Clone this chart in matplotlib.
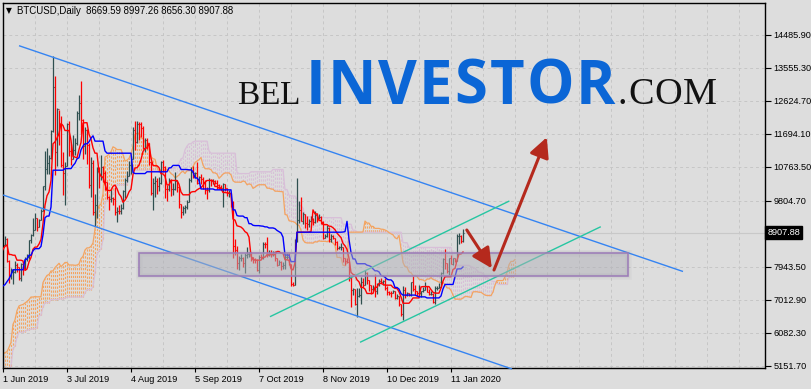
import numpy as np
import pandas as pd
import matplotlib
matplotlib.use("Agg")
import matplotlib.pyplot as plt
from matplotlib.patches import Rectangle

# ---------------- data (BTCUSD daily, from 2019-03-15) ----------------
start_date = "2019-03-15"
origin_date = "2019-06-01"

high = [
    3920, 4050, 4010, 4030, 4020, 4050, 4060, 3990, 4000, 4000, 3980, 3940, 4060, 4050, 4120, 4120, 4110,
    4170, 4930, 5290, 5050, 5060, 5230, 5270, 5320, 5290, 5460, 5340, 5110, 5120, 5170, 5180, 5240, 5310, 5320, 5330, 5350, 5350, 5450, 5620, 5630, 5500, 5350, 5280, 5270, 5250, 5340,
    5420, 5530, 5850, 5900, 5860, 5780, 5990, 6000, 6180, 6420, 7380, 7540, 8050, 8310, 8220, 8280, 7910, 7440, 8250, 8190, 8050, 8020, 7950, 8120, 8150, 8730, 8900, 8820, 8730, 9080, 8580,
    8620, 8800, 8760, 8130, 7900, 7880, 8120, 8060, 7950, 8040, 8020, 8220, 8300, 8700, 8860, 9330, 9450, 9330, 9300, 9580, 10230, 11200, 11290, 11090, 11800, 13880, 13330, 12420, 12380, 12200,
    11180, 10900, 11990, 12050, 11400, 11650, 11580, 12340, 12800, 13200, 12120, 11900, 11830, 11450, 11050, 10950, 9990, 10750, 10760, 11100, 10800, 10650, 10330, 9930, 10130, 9900, 10190, 9630, 9690, 9710, 10100,
    10450, 10640, 10920, 11070, 11890, 12050, 12050, 12020, 12030, 11930, 11580, 11570, 11440, 10910, 10450, 10520, 10450, 10480, 10920, 10950, 10780, 10240, 10440, 10410, 10320, 10620, 10380, 10210, 9720, 9670, 9680,
    9830, 10440, 10770, 10800, 10620, 10900, 10500, 10560, 10470, 10390, 10200, 10450, 10430, 10420, 10380, 10380, 10280, 10250, 10320, 10280, 10180, 10110, 10040, 9800, 8730, 8530, 8260, 8300, 8220, 8340,
    8500, 8360, 8350, 8230, 8180, 8150, 8270, 8310, 8650, 8650, 8790, 8430, 8420, 8390, 8380, 8200, 8130, 8100, 8080, 8300, 8320, 8320, 8030, 7510, 8720, 10450, 9800, 9900, 9500, 9430, 9370,
    9280, 9370, 9320, 9530, 9450, 9420, 9370, 9240, 8860, 9130, 9070, 8870, 8840, 8770, 8660, 8530, 8620, 8510, 8180, 8190, 8100, 7670, 7350, 7330, 7340, 7340, 7650, 7630, 7850, 7800,
    7570, 7430, 7420, 7750, 7490, 7600, 7620, 7580, 7630, 7390, 7260, 7250, 7300, 7260, 7180, 7120, 6900, 7390, 7360, 7220, 7200, 7520, 7690, 7430, 7270, 7430, 7270, 7360, 7520, 7410, 7330,
    7250, 7210, 7400, 7390, 7500, 7800, 8200, 8450, 8050, 8190, 8280, 8190, 8190, 8880, 8890, 8840, 8997.26,
]
low = [
    3850, 3890, 3950, 3950, 3960, 3980, 3940, 3950, 3960, 3950, 3880, 3900, 3920, 4010, 4020, 4060, 4080,
    4080, 4140, 4860, 4830, 4900, 4950, 5050, 5150, 5160, 5180, 4970, 4960, 5050, 5050, 5000, 5030, 5200, 5260, 5240, 5270, 5250, 5280, 5380, 5410, 5140, 5100, 5210, 5200, 5150, 5190,
    5320, 5390, 5490, 5600, 5730, 5630, 5730, 5800, 5970, 6130, 6350, 6800, 6970, 7690, 7890, 7650, 6640, 7210, 7250, 7610, 7800, 7600, 7510, 7800, 7960, 8040, 8660, 8600, 8500, 8080, 8130,
    8450, 8550, 8090, 7500, 7590, 7460, 7760, 7800, 7560, 7550, 7720, 7850, 8100, 8160, 8610, 8820, 8970, 8950, 9060, 9270, 9530, 10100, 10550, 10560, 10990, 11740, 10530, 10800, 11380, 10770,
    9980, 9700, 10800, 11070, 10820, 10990, 11100, 11370, 12100, 11680, 11000, 11120, 10850, 10170, 9900, 9400, 9100, 9330, 10170, 10400, 10350, 10120, 9860, 9550, 9780, 9700, 9400, 9200, 9420, 9430, 9580,
    9890, 10340, 10510, 10560, 10980, 11240, 11430, 11530, 11620, 11260, 11170, 11280, 10810, 9970, 9560, 9920, 9990, 10080, 10280, 10620, 9880, 9810, 10070, 9930, 9970, 10110, 10060, 9600, 9330, 9400, 9450,
    9580, 9760, 10350, 10460, 10460, 10270, 10300, 10290, 10130, 9990, 9860, 10050, 10220, 10290, 10280, 10140, 10150, 10100, 9630, 10080, 9940, 9900, 9630, 8200, 8270, 7880, 7850, 8100, 7950, 7760,
    8190, 8220, 8120, 8040, 8040, 7820, 7780, 8150, 8150, 8460, 8230, 8260, 8230, 8260, 8120, 7960, 7980, 7860, 7890, 7870, 8160, 7990, 7390, 7400, 7420, 8650, 9170, 9230, 9160, 9050, 8970,
    9080, 9220, 9120, 9170, 9220, 9300, 9140, 8740, 8760, 8780, 8650, 8640, 8720, 8560, 8420, 8440, 8410, 8080, 8000, 8040, 7530, 6800, 7150, 6870, 6530, 7080, 6880, 7370, 7420, 7470,
    7260, 7170, 7250, 7100, 7180, 7390, 7500, 7440, 7290, 7160, 7150, 7100, 7200, 7040, 7030, 6850, 6560, 6440, 7060, 7110, 7120, 7120, 7270, 7150, 7120, 7160, 7080, 7240, 7280, 7220, 7160,
    7150, 6930, 6880, 7290, 7340, 7370, 7730, 7870, 7760, 7720, 8010, 7990, 8080, 8100, 8580, 8610, 8656.30,
]
close = [
    3900, 4010, 3980, 3970, 4000, 4030, 3960, 3980, 3990, 3970, 3910, 3930, 4040, 4030, 4100, 4100, 4100,
    4150, 4880, 4970, 4900, 5040, 5060, 5200, 5290, 5200, 5330, 5020, 5080, 5070, 5140, 5030, 5220, 5280, 5290, 5280, 5340, 5290, 5390, 5540, 5450, 5180, 5240, 5250, 5240, 5200, 5340,
    5400, 5500, 5800, 5850, 5770, 5730, 5850, 5980, 6170, 6350, 7250, 6970, 7810, 7990, 8200, 7880, 7350, 7260, 8190, 7980, 7960, 7630, 7880, 7990, 8050, 8670, 8800, 8720, 8660, 8270, 8550,
    8560, 8740, 8120, 7680, 7790, 7800, 8000, 7930, 7630, 8010, 7900, 8160, 8230, 8690, 8850, 8980, 9330, 9080, 9270, 9530, 10210, 10700, 10860, 11010, 11790, 13020, 11180, 12400, 11960, 10810,
    10580, 10800, 11960, 11220, 10980, 11230, 11450, 12290, 12580, 12100, 11340, 11800, 11390, 10250, 10870, 9480, 9690, 10660, 10530, 10770, 10600, 10330, 9900, 9850, 9880, 9870, 9480, 9530, 9520, 9590, 10090,
    10400, 10520, 10820, 10980, 11800, 11460, 11980, 11970, 11860, 11300, 11530, 11380, 10900, 10030, 10310, 10360, 10220, 10320, 10900, 10760, 10140, 10130, 10400, 10140, 10140, 10370, 10190, 9720, 9490, 9590, 9630,
    9760, 10390, 10620, 10580, 10580, 10320, 10490, 10410, 10340, 10120, 10100, 10400, 10360, 10360, 10310, 10260, 10190, 10160, 10270, 10180, 10020, 10040, 9700, 8530, 8430, 8060, 8180, 8200, 8040, 8290,
    8300, 8340, 8230, 8150, 8140, 7850, 8210, 8190, 8590, 8580, 8270, 8330, 8300, 8370, 8200, 8000, 8090, 7970, 7980, 8230, 8230, 8030, 7470, 7440, 8660, 9260, 9550, 9230, 9430, 9180, 9150,
    9250, 9300, 9200, 9400, 9320, 9340, 9210, 8770, 8810, 9040, 8720, 8800, 8760, 8630, 8460, 8490, 8500, 8180, 8120, 8080, 7620, 7280, 7320, 6900, 7110, 7160, 7520, 7430, 7760, 7570,
    7420, 7320, 7320, 7250, 7450, 7540, 7510, 7530, 7350, 7220, 7200, 7190, 7250, 7070, 7110, 6880, 6620, 7280, 7150, 7190, 7140, 7510, 7320, 7250, 7200, 7200, 7250, 7300, 7390, 7220, 7170,
    7180, 6950, 7340, 7350, 7360, 7760, 8150, 8050, 7820, 8180, 8020, 8180, 8110, 8810, 8820, 8670, 8907.88,
]
last_open = 8669.59

# axis labels
price_ticks = [14485.90, 13555.30, 12624.70, 11694.10, 10763.50, 9804.70, 7943.50, 7012.90, 6082.30, 5151.70]
date_tick_days = [0, 32, 64, 96, 128, 160, 192, 224]
date_tick_labels = ["1 Jun 2019", "3 Jul 2019", "4 Aug 2019", "5 Sep 2019", "7 Oct 2019",
                    "8 Nov 2019", "10 Dec 2019", "11 Jan 2020"]
header_text = "BTCUSD,Daily  8669.59 8997.26 8656.30 8907.88"

# drawn objects (day index from 1 Jun 2019, price)
channel_upper = [(8, 14184), (340, 7811)]
channel_lower = [(0, 9970), (254.5, 5059)]
green_upper = [(133.5, 6535), (253.2, 9801)]
green_lower = [(178.5, 5812), (298.9, 9075)]
zone_days = (68, 312.5)
zone_prices = (7684, 8324)
arrow_down = [(231.9, 8982), (244.4, 7901)]
arrow_up = [(245.5, 7853), (271.9, 11599)]

# ---------------- computations ----------------
n = len(close)
assert len(high) == n and len(low) == n
dates = pd.date_range(start_date, periods=n, freq="D")
day = (dates - pd.Timestamp(origin_date)).days.values.astype(float)
high_a = np.array(high, float)
low_a = np.array(low, float)
close_a = np.array(close, float)
open_a = np.r_[close_a[0], close_a[:-1]]
open_a[-1] = last_open

H = pd.Series(high_a)
L = pd.Series(low_a)
tenkan = ((H.rolling(9).max() + L.rolling(9).min()) / 2).values
kijun = ((H.rolling(26).max() + L.rolling(26).min()) / 2).values
span_a = (tenkan + kijun) / 2
span_b = ((H.rolling(52).max() + L.rolling(52).min()) / 2).values
span_x = day + 26

# ---------------- figure ----------------
W, Hpx = 811, 389
bg = "#dddddd"
fig = plt.figure(figsize=(W / 100, Hpx / 100), dpi=100, facecolor=bg)
ax_l, ax_r, ax_t, ax_b = 3, 765, 3, 368
ax = fig.add_axes([ax_l / W, 1 - ax_b / Hpx, (ax_r - ax_l) / W, (ax_b - ax_t) / Hpx])
ax.set_facecolor(bg)

x_max = (ax_r - ax_l) / 2.0
y_top = 15389.1
y_bot = 5086.9
ax.set_xlim(0, x_max)
ax.set_ylim(y_bot, y_top)

grid_c = "#c6c6c6"
for p in price_ticks:
    ax.axhline(p, color=grid_c, lw=0.7, ls=(0, (3, 3)), zorder=0.5)
for gx in np.arange(16, x_max, 16):
    ax.axvline(gx, color=grid_c, lw=0.7, ls=(0, (3, 3)), zorder=0.5)

# bid line
ax.axhline(close_a[-1], color="#c8c8c8", lw=0.8, zorder=0.6)

# cloud hatch
ok = ~np.isnan(span_a) & ~np.isnan(span_b)
up = ok & (span_a >= span_b)
dn = ok & (span_a < span_b)
ax.vlines(span_x[up], span_b[up], span_a[up], colors="#F4A460", lw=0.8,
          linestyles=(0, (2.0, 1.5)), zorder=1)
ax.vlines(span_x[dn], span_a[dn], span_b[dn], colors="#D8BFD8", lw=0.8,
          linestyles=(0, (2.0, 1.5)), zorder=1)
ax.plot(span_x[ok], span_b[ok], color="#D8BFD8", lw=0.9, zorder=1.2)
ax.plot(span_x[ok], span_a[ok], color="#F4A460", lw=0.9, zorder=1.3)

# price bars (high-low line with open tick left and close tick right)
vis = day >= 0
bull = close_a >= open_a
cols = np.where(bull, "#2F4F4F", "#FF0000")
ax.vlines(day[vis], low_a[vis], high_a[vis], colors=cols[vis], lw=0.9, zorder=2)
ax.hlines(open_a[vis], day[vis] - 0.5, day[vis], colors=cols[vis], lw=0.8, zorder=2)
ax.hlines(close_a[vis], day[vis], day[vis] + 0.5, colors=cols[vis], lw=0.8, zorder=2)

# tenkan / kijun
ax.plot(day, tenkan, color="#FF0000", lw=1.0, zorder=3)
ax.plot(day, kijun, color="#0000FF", lw=1.0, zorder=3.1)

# trend lines
blue = "#3584f2"
teal = "#26c6a2"
for seg, c in [(channel_upper, blue), (channel_lower, blue), (green_upper, teal), (green_lower, teal)]:
    xs, ys = zip(*seg)
    ax.plot(xs, ys, color=c, lw=1.0, zorder=4, clip_on=False, solid_capstyle="butt")

# zone rectangle with soft shadow edge
zw = zone_days[1] - zone_days[0]
zh = zone_prices[1] - zone_prices[0]
for k, a in [(3.0, 0.06), (2.0, 0.08), (1.0, 0.10)]:
    ax.add_patch(Rectangle((zone_days[0], zone_prices[0]), zw, zh, facecolor="none",
                           edgecolor="#8a8a90", lw=k * 1.6, alpha=a, zorder=4.9))
ax.add_patch(Rectangle((zone_days[0], zone_prices[0]), zw, zh, facecolor="#b0b0b8", alpha=0.5,
                       edgecolor="none", zorder=5))
ax.add_patch(Rectangle((zone_days[0], zone_prices[0]), zw, zh, facecolor="none",
                       edgecolor="#9c7cb8", lw=1.1, zorder=5.1))

# arrows
arrow_c = "#b5291d"
for seg in (arrow_down, arrow_up):
    ax.annotate("", xy=seg[1], xytext=seg[0],
                arrowprops=dict(arrowstyle="-|>,head_length=0.8,head_width=0.4",
                                mutation_scale=15, color=arrow_c, lw=2.2,
                                shrinkA=0, shrinkB=0), zorder=6)

# axes styling
for s in ax.spines.values():
    s.set_color("black")
    s.set_linewidth(1.0)
ax.yaxis.tick_right()
ax.set_yticks(price_ticks)
ax.set_yticklabels([f"{p:.2f}" for p in price_ticks])
ax.tick_params(axis="y", length=4, width=0.8, pad=2, labelsize=6.6, colors="black")
ax.set_xticks(date_tick_days)
ax.set_xticklabels(date_tick_labels, ha="left")
ax.tick_params(axis="x", length=3, width=0.8, pad=2, labelsize=6.6, colors="black")
for lab in ax.get_xticklabels() + ax.get_yticklabels():
    lab.set_fontfamily(["Liberation Sans", "DejaVu Sans"])

# last price label
ax.text(1.003, close_a[-1], f"{close_a[-1]:.2f}", transform=ax.get_yaxis_transform(),
        ha="left", va="center", color="white", fontsize=6.6, family=["Liberation Sans", "DejaVu Sans"],
        bbox=dict(facecolor="black", edgecolor="black", boxstyle="square,pad=0.2"), clip_on=False, zorder=10)

# header
fig.text(6 / W, 1 - 11 / Hpx, "\u25bc", fontsize=5.5, va="center", ha="left", family="DejaVu Sans", color="black")
fig.text(17 / W, 1 - 11 / Hpx, header_text, fontsize=6.9, va="center", ha="left",
         family=["Liberation Sans", "DejaVu Sans"], color="black")

# watermark, each word as one text, letter-spaced to span a given pixel width
fig.canvas.draw()
renderer = fig.canvas.get_renderer()


def spread_word(s, x0, x1, base_y, **kw):
    t = fig.text(x0 / W, 1 - base_y / Hpx, s, va="baseline", ha="left", **kw)
    w = t.get_window_extent(renderer).width
    if w < x1 - x0 and len(s) > 1:
        # widen by adding hair spaces via manual letter spacing on one text object
        t.remove()
        probe = fig.text(0, 0, s[0], **kw)
        widths = []
        for ch in s:
            probe.set_text(ch)
            widths.append(probe.get_window_extent(renderer).width)
        probe.remove()
        gap = (x1 - x0 - sum(widths)) / (len(s) - 1)
        x = x0
        for ch, cw in zip(s, widths):
            fig.text(x / W, 1 - base_y / Hpx, ch, va="baseline", ha="left", **kw)
            x += cw + gap


spread_word("BEL", 237, 300, 103.5, fontsize=24, family="Liberation Serif", color="#111111")
spread_word("INVESTOR", 306, 615, 103.5, fontsize=43, family="Open Sans", weight="bold", color="#0b66d6")
spread_word(".COM", 618, 717, 104, fontsize=27.5, family="Liberation Serif", color="#111111")

fig.savefig("out.png", dpi=100, facecolor=bg)
